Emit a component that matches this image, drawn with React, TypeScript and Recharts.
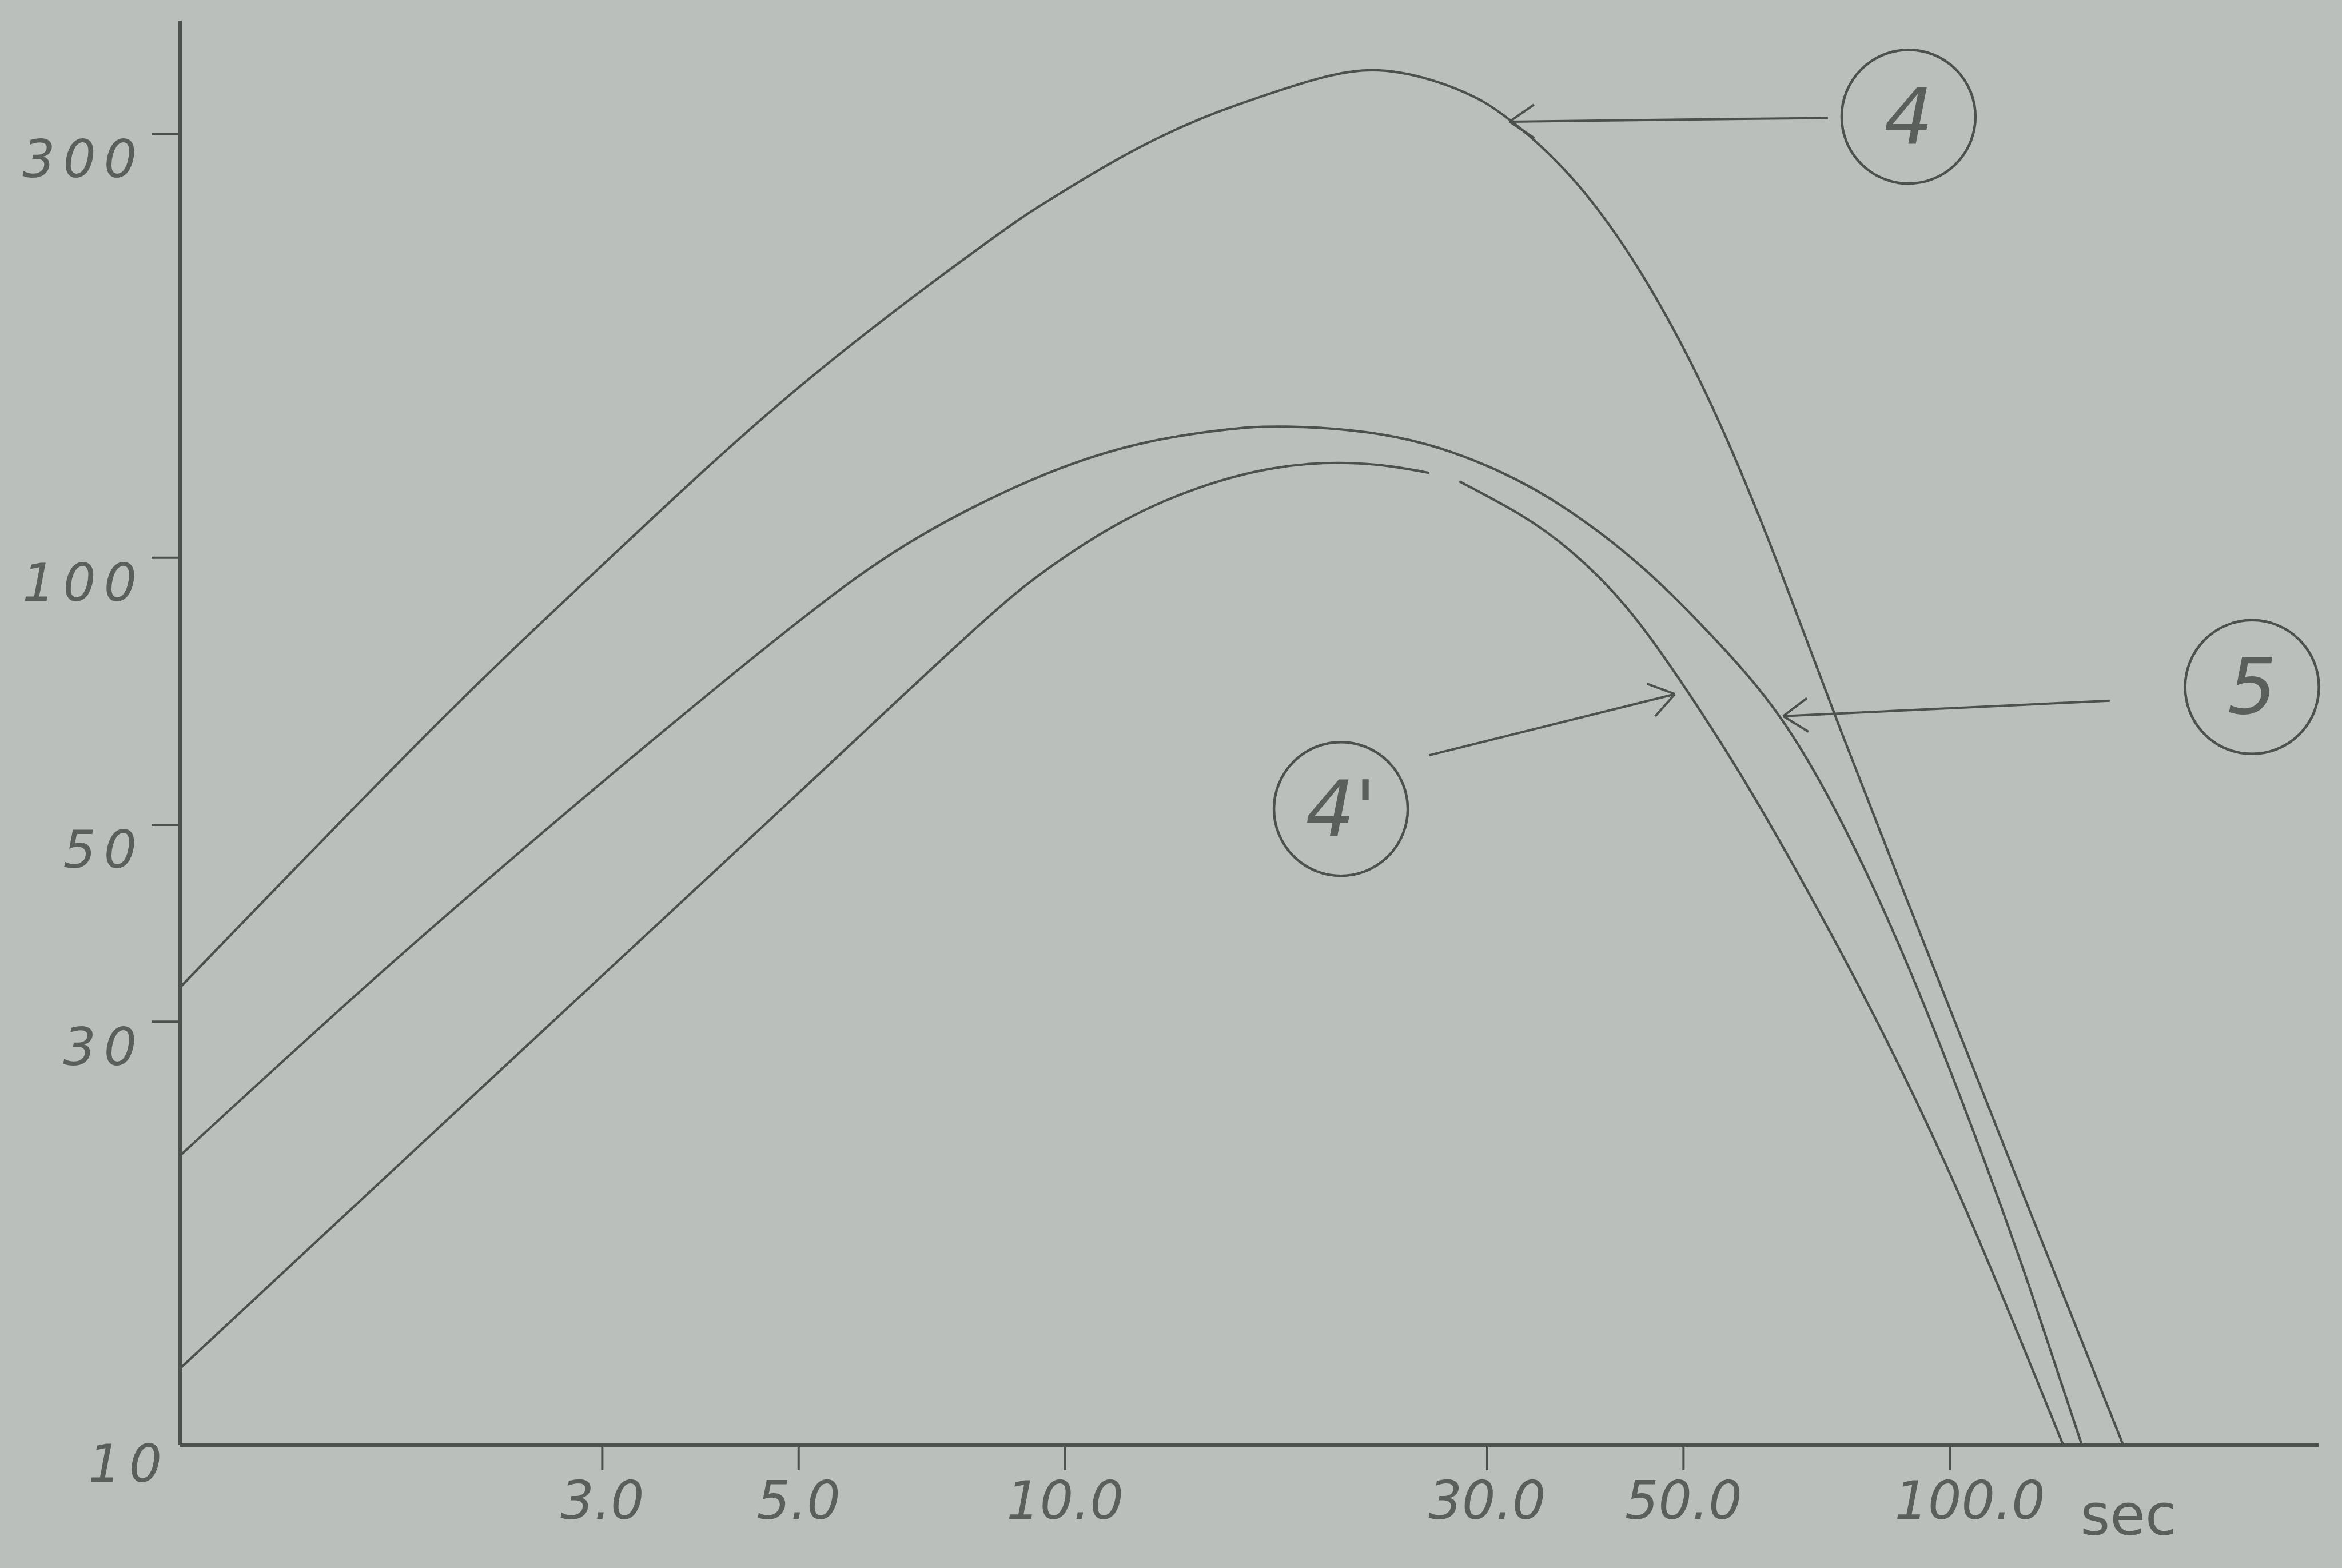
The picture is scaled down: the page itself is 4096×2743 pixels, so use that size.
import React from 'react';
import { LineChart, Line, XAxis, YAxis, ReferenceDot, ReferenceLine } from 'recharts';

// curve 4 (top)
const t4 = [1, 1.94, 3.06, 4.98, 7.98, 9.54, 11.6, 14.2, 17.3, 21.7, 26.0, 28.5, 31.4, 37.4, 44.9, 53.8, 63.7, 75.1, 97.7, 123, 157];
const v4 = [32.8, 64.6, 99.9, 155, 223, 252, 283, 312, 335, 354, 345.1, 333.3, 314.5, 267.9, 208.4, 148.4, 99.2, 64.3, 32.9, 18.4, 10];

// curve 5 (middle)
const t5 = [1, 1.55, 2.3, 3.38, 4.98, 6.81, 9.54, 12.4, 15.0, 17.8, 23.7, 30.7, 37.3, 45.3, 54.3, 64.4, 76.1, 90.3, 106.8, 122.9, 141];
const v5 = [21.2, 31.6, 44.6, 61.7, 84.5, 105.3, 124.4, 135, 139.2, 140.5, 136.7, 125.6, 112.6, 96.8, 80.9, 65.95, 49.5, 34.1, 22.3, 15.1, 10];

// curve 4' (bottom) - the pen lifts once just after the peak
const t4p = [1, 1.85, 2.96, 4.98, 7.73, 9.54, 11.6, 14.1, 17.1, 20.4, 23.4, 25.8, 26.9, 27.9, 32.6, 37.3, 43.0, 49.4, 57.2, 66.8, 82.2, 103.8, 134.3];
const v4p = [12.2, 21.6, 33.4, 54.1, 81.4, 97.0, 109.8, 119.7, 126.0, 127.9, 126.7, 124.6, null, 121.9, 112.0, 101.7, 88.2, 73.1, 58.3, 44.7, 30.4, 18.6, 10];

const xTicks = [3, 5, 10, 30, 50, 100];
const yTicks = [10, 30, 50, 100, 300];

// callouts: circled labels and their arrows (tail -> tip), in data units
const callouts = [
  { label: '4', t: 89.8, v: 314, from: [72.8, 313], to: [31.8, 310] },
  { label: '5', t: 219.5, v: 71.5, from: [151.6, 69.0], to: [64.8, 66.3] },
  { label: "4'", t: 20.5, v: 52.1, from: [25.8, 59.9], to: [48.9, 70.2] },
];

const ink = '#4c514d';
const pencil = '#5a5f5b';
const font = '"DejaVu Sans", sans-serif';

const toRows = (ts: number[], vs: (number | null)[]) => ts.map((t, i) => ({ t, v: vs[i] }));

const YTick = (props: any) => {
  const { x, y, payload } = props;
  const origin = payload.value === 10;
  return (
    <g>
      {!origin && <line x1={x - 50} y1={y} x2={x} y2={y} stroke={ink} strokeWidth={4} />}
      <text
        x={origin ? x - 18 : x - 62}
        y={origin ? y + 32 : y + 44}
        textAnchor="end"
        dominantBaseline="central"
        fontFamily={font}
        fontWeight={200}
        fontStyle="italic"
        fontSize={90}
        letterSpacing={14}
        fill={pencil}
      >
        {payload.value}
      </text>
    </g>
  );
};

const XTick = (props: any) => {
  const { x, y, payload } = props;
  const shift = payload.value === 100 ? 35 : 0;
  return (
    <g>
      <line x1={x} y1={y} x2={x} y2={y + 44} stroke={ink} strokeWidth={4} />
      <text
        x={x + shift}
        y={y + 97}
        textAnchor="middle"
        dominantBaseline="central"
        fontFamily={font}
        fontWeight={200}
        fontStyle="italic"
        fontSize={92}
        fill={pencil}
      >
        {payload.value.toFixed(1)}
      </text>
      {payload.value === 100 && (
        <text x={x + 228} y={y + 157} fontFamily={font} fontSize={100} fill={pencil}>
          sec
        </text>
      )}
    </g>
  );
};

const Circled = (props: any) => {
  const { cx, cy, label } = props;
  return (
    <g>
      <circle cx={cx} cy={cy} r={117} fill="none" stroke={ink} strokeWidth={4.5} />
      <text
        x={cx}
        y={cy}
        textAnchor="middle"
        dominantBaseline="central"
        fontFamily={font}
        fontWeight={200}
        fontStyle="italic"
        fontSize={135}
        fill={pencil}
      >
        {label}
      </text>
    </g>
  );
};

const Arrow = (props: any) => {
  const { x1, y1, x2, y2 } = props;
  const a = Math.atan2(y1 - y2, x1 - x2);
  const len = 52;
  const spread = 0.6;
  return (
    <g stroke={ink} strokeWidth={4} fill="none">
      <line x1={x1} y1={y1} x2={x2} y2={y2} />
      <line x1={x2} y1={y2} x2={x2 + len * Math.cos(a + spread)} y2={y2 + len * Math.sin(a + spread)} />
      <line x1={x2} y1={y2} x2={x2 + len * Math.cos(a - spread)} y2={y2 + len * Math.sin(a - spread)} />
    </g>
  );
};

export default function App() {
  const series = [toRows(t4, v4), toRows(t5, v5), toRows(t4p, v4p)];

  return (
    <div style={{ position: 'absolute', left: 0, top: 0, width: 4096, height: 2743, background: '#babfbb' }}>
      <LineChart width={4096} height={2743} margin={{ top: 36, right: 41, bottom: 65, left: 15 }}>
        <XAxis
          dataKey="t"
          type="number"
          scale="log"
          domain={[1, 261]}
          allowDataOverflow
          ticks={xTicks}
          tick={<XTick />}
          tickLine={false}
          tickSize={0}
          tickMargin={0}
          height={150}
          axisLine={{ stroke: ink, strokeWidth: 6 }}
        />
        <YAxis
          dataKey="v"
          type="number"
          scale="log"
          domain={[10, 403]}
          allowDataOverflow
          ticks={yTicks}
          tick={<YTick />}
          tickLine={false}
          tickSize={0}
          tickMargin={0}
          width={300}
          axisLine={{ stroke: ink, strokeWidth: 6 }}
        />
        {series.map((rows, i) => (
          <Line
            key={i}
            data={rows}
            dataKey="v"
            type="natural"
            stroke={ink}
            strokeWidth={4.2}
            dot={false}
            connectNulls={false}
            isAnimationActive={false}
          />
        ))}
        {callouts.map((c) => (
          <ReferenceLine
            key={'a' + c.label}
            segment={[
              { x: c.from[0], y: c.from[1] },
              { x: c.to[0], y: c.to[1] },
            ]}
            ifOverflow="visible"
            shape={<Arrow />}
          />
        ))}
        {callouts.map((c) => (
          <ReferenceDot
            key={'c' + c.label}
            x={c.t}
            y={c.v}
            r={117}
            ifOverflow="visible"
            shape={(p: any) => <Circled {...p} label={c.label} />}
          />
        ))}
      </LineChart>
    </div>
  );
}
